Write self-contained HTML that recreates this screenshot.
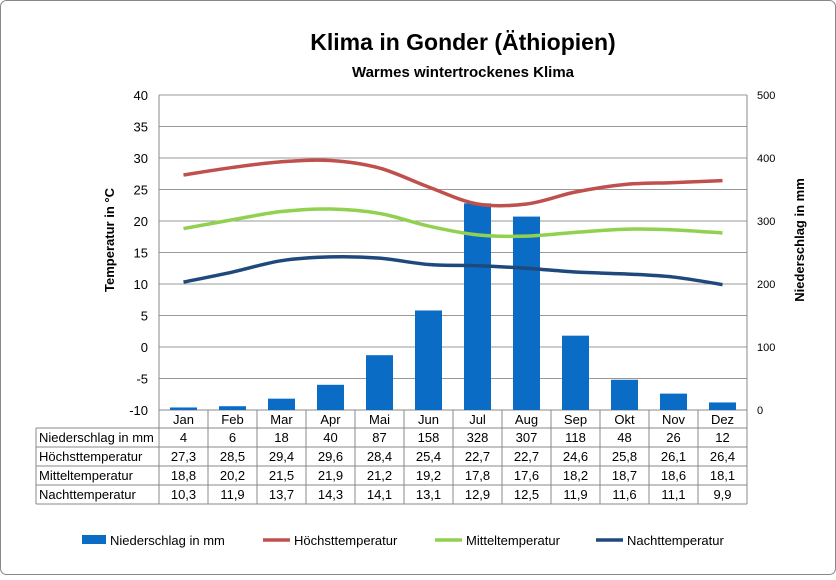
<!DOCTYPE html>
<html><head><meta charset="utf-8"><style>
body{margin:0;background:#fff}
svg{font-family:"Liberation Sans",Arial,sans-serif}
</style></head><body>
<svg id="c" width="836" height="575" xmlns="http://www.w3.org/2000/svg">
<rect x="0.5" y="0.5" width="835" height="574" rx="6" fill="#fff" stroke="#888"/>
<text x="463" y="50" font-size="23" font-weight="bold" text-anchor="middle">Klima in Gonder (Äthiopien)</text>
<text x="463" y="77" font-size="15" font-weight="bold" text-anchor="middle">Warmes wintertrockenes Klima</text>
<text transform="translate(114,240) rotate(-90)" font-size="13" font-weight="bold" text-anchor="middle">Temperatur in °C</text>
<text transform="translate(804,240) rotate(-90)" font-size="13" font-weight="bold" text-anchor="middle">Niederschlag in mm</text>
<g id="grid"></g><g id="bars"></g><g id="lines"></g><g id="table"></g><g id="legend"></g>
</svg>
<script>
const months=["Jan","Feb","Mar","Apr","Mai","Jun","Jul","Aug","Sep","Okt","Nov","Dez"];
const precip=[4,6,18,40,87,158,328,307,118,48,26,12];
const tmax=[27.3,28.5,29.4,29.6,28.4,25.4,22.7,22.7,24.6,25.8,26.1,26.4];
const tmean=[18.8,20.2,21.5,21.9,21.2,19.2,17.8,17.6,18.2,18.7,18.6,18.1];
const tmin=[10.3,11.9,13.7,14.3,14.1,13.1,12.9,12.5,11.9,11.6,11.1,9.9];
const leftTicks=[-10,-5,0,5,10,15,20,25,30,35,40];
const rightTicks=[0,100,200,300,400,500];
const NS="http://www.w3.org/2000/svg";
const X0=159,CW=49,YT=95,YB=410;
const yT=v=>YB-(v+10)/50*(YB-YT);
const yP=v=>YB-v/500*(YB-YT);
const xc=i=>X0+CW*i+CW/2;
function mk(tag,attrs,parent,txt){const e=document.createElementNS(NS,tag);for(const k in attrs)e.setAttribute(k,attrs[k]);if(txt!==undefined)e.textContent=txt;parent.appendChild(e);return e;}
const grid=document.getElementById('grid');
leftTicks.forEach(t=>{const y=yT(t);
 const l=mk('line',{x1:X0,x2:X0+CW*12,y1:y,y2:y,stroke:t===-10?'#888':'#999','stroke-width':1},grid);
 
 const tx=mk('text',{x:148,y:y+5,'font-size':13,'text-anchor':'end'},grid,String(t));
 });
rightTicks.forEach(t=>{const tx=mk('text',{x:757,y:yP(t)+4,'font-size':11},grid,String(t));
 });
const ax=mk('line',{x1:X0,x2:X0,y1:YT,y2:YB,stroke:'#888'},grid);
const ax2=mk('line',{x1:X0+CW*12,x2:X0+CW*12,y1:YT,y2:YB,stroke:'#888'},grid);
const bars=document.getElementById('bars');
precip.forEach((p,i)=>{const b=mk('rect',{x:xc(i)-13.5,y:yP(p),width:27,height:YB-yP(p),fill:'#0a6cc4'},bars);
 });
function smooth(vals){const pts=vals.map((v,i)=>[xc(i),yT(v)]);let d=`M${pts[0][0]},${pts[0][1]}`;
 for(let i=0;i<pts.length-1;i++){const p0=pts[i-1]||pts[i],p1=pts[i],p2=pts[i+1],p3=pts[i+2]||p2;
  const c1=[p1[0]+(p2[0]-p0[0])/6,p1[1]+(p2[1]-p0[1])/6],c2=[p2[0]-(p3[0]-p1[0])/6,p2[1]-(p3[1]-p1[1])/6];
  d+=` C${c1[0]},${c1[1]} ${c2[0]},${c2[1]} ${p2[0]},${p2[1]}`;}return d;}
const lines=document.getElementById('lines');
[[tmax,'#c0504d','max-temp-line'],[tmean,'#92d050','mean-temp-line'],[tmin,'#1f497d','min-temp-line']].forEach(([v,c,n])=>{
 const p=mk('path',{d:smooth(v),fill:'none',stroke:c,'stroke-width':3.5},lines);
 });
const tb=document.getElementById('table');
const rows=[["Niederschlag in mm",precip],["Höchsttemperatur",tmax],["Mitteltemperatur",tmean],["Nachttemperatur",tmin]];
const RY=[410,428,447,466,485,504];
const fmt=v=>String(v).replace('.',',');
months.forEach((m,i)=>{const t=mk('text',{x:xc(i),y:424,'font-size':13,'text-anchor':'middle'},tb,m);
 });
for(let i=0;i<=12;i++){const l=mk('line',{x1:X0+CW*i,x2:X0+CW*i,y1:410,y2:504,stroke:'#888'},tb);}
const lv=mk('line',{x1:36,x2:36,y1:428,y2:504,stroke:'#888'},tb);
for(let r=1;r<6;r++){const l=mk('line',{x1:36,x2:X0+CW*12,y1:RY[r],y2:RY[r],stroke:'#888'},tb);}
rows.forEach(([lab,vals],r)=>{const y=RY[r+1]+14;
 const t=mk('text',{x:39,y:y,'font-size':13},tb,lab);
 vals.forEach((v,i)=>{const c=mk('text',{x:xc(i),y:y,'font-size':13,'text-anchor':'middle'},tb,fmt(v));});});
const lg=document.getElementById('legend');
const items=[['rect','#0a6cc4','Niederschlag in mm',82],['line','#c0504d','Höchsttemperatur',263],['line','#92d050','Mitteltemperatur',435],['line','#1f497d','Nachttemperatur',596]];
items.forEach(([k,c,txt,x])=>{const g=mk('g',{},lg);
 if(k==='rect')mk('rect',{x:x,y:535,width:24,height:9,fill:c},g);else mk('line',{x1:x,x2:x+27,y1:540,y2:540,stroke:c,'stroke-width':3.5},g);
 mk('text',{x:x+(k==='rect'?28:31),y:545,'font-size':13},g,txt);});
</script>
</body></html>
